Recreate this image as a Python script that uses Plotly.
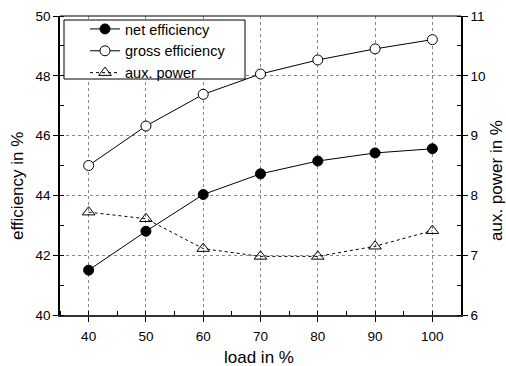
import plotly.graph_objects as go

load = [40, 50, 60, 70, 80, 90, 100]
net_eff = [41.5, 42.8, 44.03, 44.72, 45.15, 45.42, 45.56]
gross_eff = [45.0, 46.32, 47.38, 48.06, 48.53, 48.9, 49.21]
aux_power = [7.72, 7.61, 7.11, 6.98, 6.98, 7.15, 7.41]

FONT = "Arial, Liberation Sans, sans-serif"
W, H = 506, 366
L, R, T, B = 60, 45, 16, 51
PW, PH = W - L - R, H - T - B

def px_x(x):
    return (x - L) / PW

def px_y(y):
    return 1 - (y - T) / PH

fig = go.Figure()
fig.add_trace(go.Scatter(
    x=load, y=net_eff, name="net efficiency", mode="lines+markers",
    line=dict(color="black", width=1),
    marker=dict(symbol="circle", size=10, color="black", line=dict(color="black", width=1)),
))
fig.add_trace(go.Scatter(
    x=load, y=gross_eff, name="gross efficiency", mode="lines+markers",
    line=dict(color="black", width=1),
    marker=dict(symbol="circle", size=10, color="white", line=dict(color="black", width=1)),
))
fig.add_trace(go.Scatter(
    x=load, y=aux_power, name="aux. power", mode="lines+markers", yaxis="y2",
    line=dict(color="black", width=1, dash="dot"),
    marker=dict(symbol="triangle-up-open", size=11, color="black", line=dict(color="black", width=1)),
))

axis_common = dict(
    showline=True, linecolor="black", linewidth=1.5,
    ticks="outside", ticklen=5, tickcolor="black", tickwidth=1,
    tickfont=dict(family=FONT, size=13.5, color="black"),
    zeroline=False, automargin=False,
)

TITLE_FONT = dict(family=FONT, size=17, color="black")

fig.update_layout(
    width=W, height=H,
    margin=dict(l=L, r=R, t=T, b=B),
    paper_bgcolor="white", plot_bgcolor="white",
    font=dict(family=FONT, size=14, color="black"),
    showlegend=True,
    legend=dict(
        x=px_x(85), y=px_y(13), xanchor="left", yanchor="top",
        bgcolor="rgba(0,0,0,0)", borderwidth=0,
        font=dict(family=FONT, size=14.5, color="black"),
        tracegroupgap=0,
    ),
    xaxis=dict(
        **{**axis_common, "linecolor": "#333", "linewidth": 2},
        range=[35, 105], tickmode="array", tickvals=load,
        ticktext=[str(v) for v in load], ticklabelstandoff=3,
        showgrid=True, gridcolor="#888", griddash="dot", gridwidth=1,
        minor=dict(dtick=5, ticks="inside", ticklen=4, tickcolor="black", showgrid=False),
    ),
    yaxis=dict(
        **axis_common,
        range=[40, 50], dtick=2, tick0=40,
        showgrid=True, gridcolor="#888", griddash="dot", gridwidth=1,
        minor=dict(dtick=1, ticks="inside", ticklen=4, tickcolor="black", showgrid=False),
    ),
    yaxis2=dict(
        **axis_common,
        overlaying="y", side="right", anchor="x",
        range=[6, 11], dtick=1, tick0=6, showgrid=False,
        minor=dict(dtick=0.5, ticks="inside", ticklen=4, tickcolor="black", showgrid=False),
    ),
    shapes=[
        dict(type="line", xref="paper", yref="paper", x0=0, x1=1, y0=1, y1=1,
             line=dict(color="black", width=1)),
        dict(type="rect", xref="paper", yref="paper",
             x0=px_x(64), x1=px_x(245), y0=px_y(79), y1=px_y(20),
             line=dict(color="black", width=1), fillcolor="white", layer="above"),
    ],
    annotations=[
        dict(text="load in %", xref="paper", yref="paper", x=px_x(259), y=px_y(357),
             xanchor="center", yanchor="middle", showarrow=False, font=TITLE_FONT),
        dict(text="efficiency in %", xref="paper", yref="paper", x=px_x(17), y=px_y(186),
             xanchor="center", yanchor="middle", textangle=-90, showarrow=False, font=TITLE_FONT),
        dict(text="aux. power in %", xref="paper", yref="paper", x=px_x(496), y=px_y(181),
             xanchor="center", yanchor="middle", textangle=-90, showarrow=False, font=TITLE_FONT),
    ],
)

fig.write_html("out.html")
